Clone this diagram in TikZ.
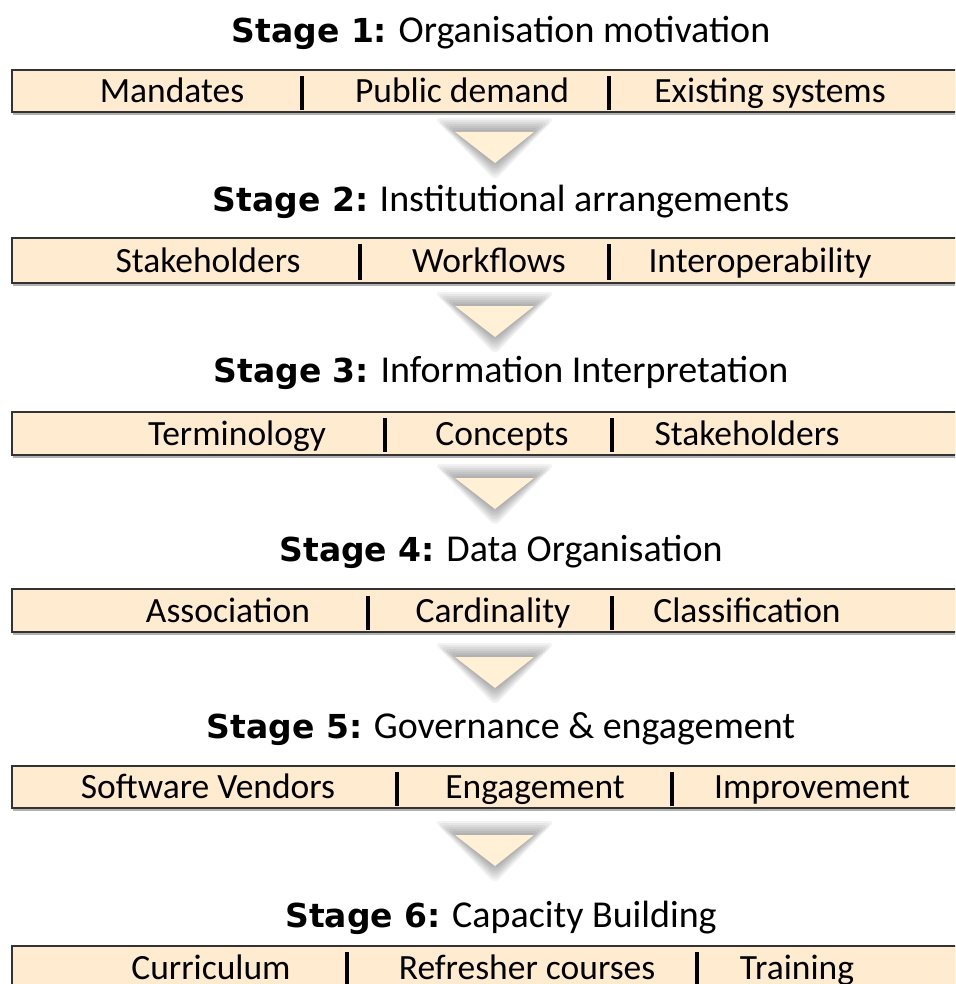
\documentclass[tikz,border=0pt]{standalone}
\usepackage{fontspec}
\setmainfont{Carlito}
\newfontfamily\stagefont{DejaVu Sans}
\usetikzlibrary{positioning}
\definecolor{barfill}{RGB}{255,236,208}
\definecolor{arrowfill}{RGB}{255,240,214}
\newcommand{\stg}[1]{{\stagefont\bfseries\fontsize{33}{38}\selectfont Stage #1:}}

\tikzset{
	stagebar/.style={draw=black!80, line width=1.6pt, fill=barfill},
	barshade/.style={draw=black!30, line width=1.6pt},
	stagetitle/.style={font=\fontsize{38}{44}\selectfont, inner sep=0pt, anchor=base},
	item/.style={font=\fontsize{35.5}{40}\selectfont, inner sep=0pt, anchor=base},
	sepline/.style={line width=3.2pt, black},
	glow/.style={fill=black, opacity=0.05, rounded corners=6pt},
	downtri/.style={fill=arrowfill}
}

\begin{document}
\begin{tikzpicture}[x=1pt, y=-1pt]
	\useasboundingbox (0,0) rectangle (955,984);
	\clip (0,0) rectangle (955,984);
	
	% titles
	\node[stagetitle] (t1) at (501,43) {\stg{1} Organisation motivation};
	\node[stagetitle] (t2) at (501,212) {\stg{2} Institutional arrangements};
	\node[stagetitle] (t3) at (501,382) {\stg{3} Information Interpretation};
	\node[stagetitle] (t4) at (501,561) {\stg{4} Data Organisation};
	\node[stagetitle] (t5) at (501,738) {\stg{5} Governance \& engagement};
	\node[stagetitle] (t6) at (501,927) {\stg{6} Capacity Building};
	
	% bars
	\foreach \top/\bot in {70/112, 238/283, 412/455, 589/632, 766/808, 946/1000} {
		\draw[barshade] (13,\bot+2) -- (960,\bot+2);
		\draw[stagebar] (12,\top) rectangle (970,\bot);
	}
	
	% arrows between stages
	\foreach \ay in {132, 306, 478, 657, 835} {
		\foreach \k in {1,...,7} {
			\fill[glow] (455-3*\k,\ay-2*\k) -- (534+3*\k,\ay-2*\k) -- (495,\ay+31+2.5*\k) -- cycle;
		}
		\fill[downtri] (455,\ay) -- (534,\ay) -- (495,\ay+31) -- cycle;
	}
	
	% stage 1
	\node[item] (m1) at (172,103) {Mandates};
	\node[item] (m2) at (462,103) {Public demand};
	\node[item] (m3) at (770,103) {Existing systems};
	\draw[sepline] (302,76) -- (302,110);
	\draw[sepline] (609,76) -- (609,110);
	
	% stage 2
	\node[item] (i1) at (208,272) {Stakeholders};
	\node[item] (i2) at (489,272) {Workflows};
	\node[item] (i3) at (760,272) {Interoperability};
	\draw[sepline] (360,244) -- (360,280);
	\draw[sepline] (609,244) -- (609,280);
	
	% stage 3
	\node[item] (p1) at (237,445) {Terminology};
	\node[item] (p2) at (502,445) {Concepts};
	\node[item] (p3) at (747,445) {Stakeholders};
	\draw[sepline] (385,418) -- (385,452);
	\draw[sepline] (612,418) -- (612,452);
	
	% stage 4
	\node[item] (d1) at (228,622) {Association};
	\node[item] (d2) at (493,622) {Cardinality};
	\node[item] (d3) at (747,622) {Classification};
	\draw[sepline] (368,596) -- (368,630);
	\draw[sepline] (612,596) -- (612,630);
	
	% stage 5
	\node[item] (g1) at (208,798) {Software Vendors};
	\node[item] (g2) at (535,798) {Engagement};
	\node[item] (g3) at (812,798) {Improvement};
	\draw[sepline] (397,772) -- (397,806);
	\draw[sepline] (672,772) -- (672,806);
	
	% stage 6
	\node[item] (c1) at (211,979) {Curriculum};
	\node[item] (c2) at (527,979) {Refresher courses};
	\node[item] (c3) at (797,979) {Training};
	\draw[sepline] (347,952) -- (347,990);
	\draw[sepline] (697,952) -- (697,990);
\end{tikzpicture}
\end{document}
